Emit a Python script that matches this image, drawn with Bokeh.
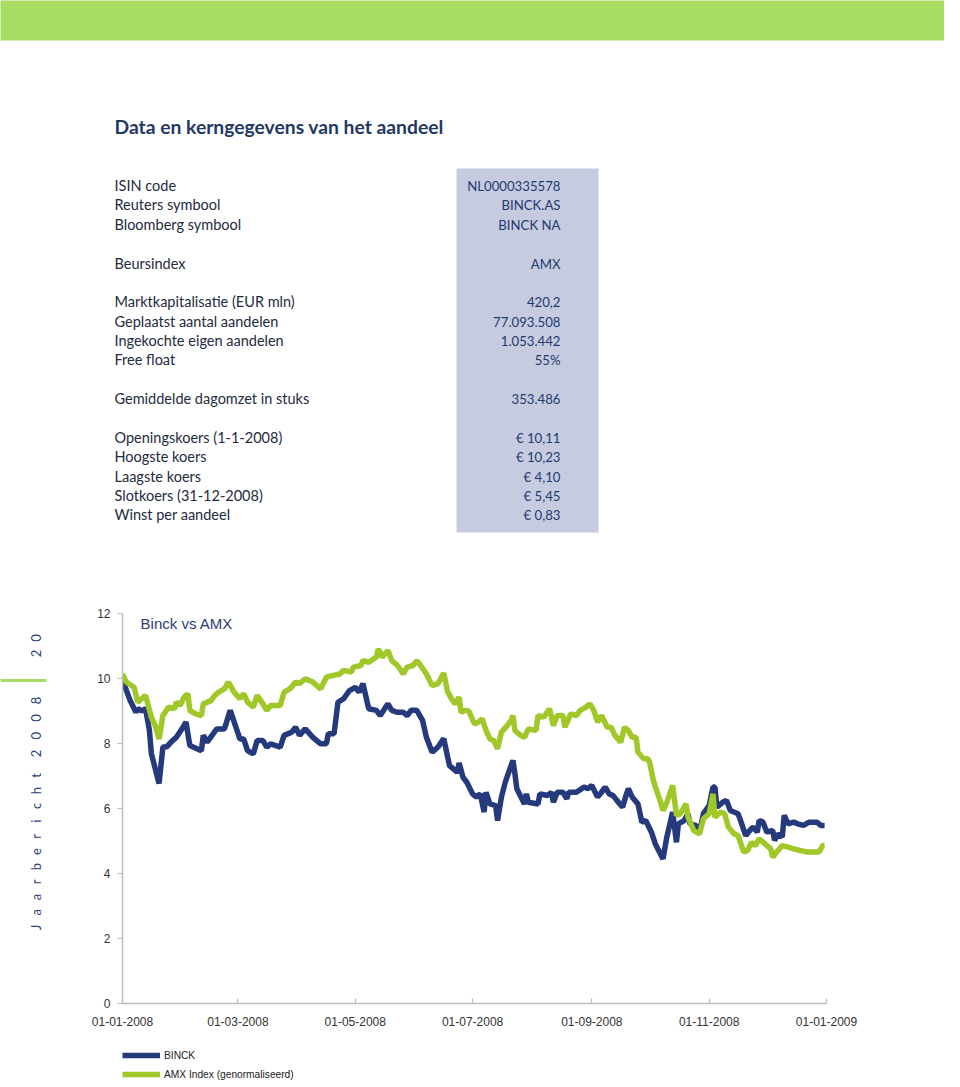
import numpy as np
import pandas as pd
from datetime import datetime
from bokeh.plotting import figure
from bokeh.models import Range1d, FixedTicker, DatetimeTickFormatter, Legend, LegendItem, Label
from bokeh.layouts import column, row
from bokeh.core.properties import value
from bokeh.embed import file_html
from bokeh.resources import INLINE

# ---------------- data ----------------
title_text = "Data en kerngegevens van het aandeel"
row_labels = ["ISIN code", "Reuters symbool", "Bloomberg symbool", "Beursindex",
              "Marktkapitalisatie (EUR mln)", "Geplaatst aantal aandelen",
              "Ingekochte eigen aandelen", "Free float", "Gemiddelde dagomzet in stuks",
              "Openingskoers (1-1-2008)", "Hoogste koers", "Laagste koers",
              "Slotkoers (31-12-2008)", "Winst per aandeel"]
row_values = ["NL0000335578", "BINCK.AS", "BINCK NA", "AMX", "420,2", "77.093.508",
              "1.053.442", "55%", "353.486", "€ 10,11", "€ 10,23", "€ 4,10",
              "€ 5,45", "€ 0,83"]

chart_title = "Binck vs AMX"
series_names = ["BINCK", "AMX Index (genormaliseerd)"]
side_word = "Jaarbericht"
side_year = "2008"
side_page = "20"

# days since 01-01-2008
binck_day = [0, 4, 7, 8, 10, 12, 14, 15, 19, 21,
             23, 26, 28, 31, 33, 35, 41, 42, 44, 49,
             53, 56, 59, 61, 63, 65, 68, 70, 73, 75,
             77, 82, 84, 88, 90, 92, 95, 99, 103, 106,
             107, 110, 112, 115, 118, 121, 123, 125, 128, 132,
             134, 138, 140, 143, 146, 148, 150, 153, 156, 158,
             161, 164, 167, 170, 174, 175, 177, 179, 182, 184,
             186, 188, 189, 191, 194, 195, 197, 199, 202, 203,
             204, 205, 209, 210, 211, 216, 217, 221, 223, 224,
             226, 229, 231, 232, 236, 240, 242, 244, 247, 249,
             251, 253, 255, 257, 260, 262, 263, 265, 268, 270,
             272, 275, 277, 281, 283, 286, 288, 289, 292, 294,
             295, 298, 300, 302, 305, 307, 308, 309, 312, 314,
             316, 320, 321, 324, 327, 328, 330, 331, 333, 335,
             338, 339, 341, 343, 344, 346, 349, 351, 354, 357,
             361, 363, 365]
binck_val = [9.95, 9.32, 8.96, 9.07, 9.0, 9.07, 8.4, 7.69, 6.77, 7.89,
             7.9, 8.09, 8.19, 8.46, 8.66, 7.94, 7.78, 8.25, 8.04, 8.45,
             8.45, 9.02, 8.5, 8.14, 8.14, 7.78, 7.68, 8.09, 8.09, 7.89,
             7.99, 7.89, 8.25, 8.35, 8.5, 8.25, 8.45, 8.19, 7.99, 7.99,
             8.3, 8.3, 9.27, 9.38, 9.63, 9.73, 9.58, 9.84, 9.07, 9.02,
             8.86, 9.22, 9.02, 8.96, 8.96, 8.86, 9.02, 9.02, 8.71, 8.19,
             7.73, 7.89, 8.15, 7.32, 7.12, 7.4, 6.96, 6.81, 6.45, 6.35,
             6.45, 5.89, 6.5, 6.14, 6.09, 5.63, 6.35, 6.81, 7.32, 7.48,
             7.07, 6.61, 6.14, 6.45, 6.19, 6.14, 6.45, 6.40, 6.5, 6.19,
             6.5, 6.5, 6.3, 6.5, 6.5, 6.66, 6.61, 6.71, 6.35, 6.5,
             6.66, 6.45, 6.40, 6.25, 6.04, 6.45, 6.61, 6.35, 6.14, 5.58,
             5.63, 5.27, 4.91, 4.45, 5.12, 5.89, 4.96, 5.53, 5.63, 5.84,
             5.53, 5.48, 5.27, 5.84, 6.09, 6.66, 6.66, 6.04, 6.19, 6.25,
             5.94, 5.84, 5.68, 5.17, 5.38, 5.43, 5.27, 5.63, 5.58, 5.27,
             5.33, 5.02, 5.22, 5.12, 5.79, 5.53, 5.58, 5.53, 5.48, 5.58,
             5.58, 5.48, 5.48]

amx_day = [0, 2, 6, 8, 12, 15, 17, 19, 21, 24,
           27, 28, 30, 32, 34, 35, 38, 41, 42, 46,
           48, 50, 53, 55, 58, 61, 63, 65, 68, 70,
           73, 75, 77, 82, 84, 87, 90, 92, 95, 99,
           103, 106, 109, 113, 115, 119, 120, 124, 125, 128,
           132, 133, 135, 138, 140, 143, 146, 148, 151, 153,
           155, 158, 161, 164, 167, 169, 171, 173, 175, 176,
           178, 180, 183, 185, 187, 189, 191, 193, 195, 197,
           200, 202, 203, 204, 207, 209, 211, 215, 216, 219,
           222, 224, 226, 229, 230, 233, 236, 238, 241, 243,
           245, 247, 249, 252, 254, 256, 259, 261, 263, 265,
           267, 268, 271, 273, 274, 276, 280, 281, 283, 286,
           288, 290, 293, 294, 297, 300, 302, 305, 307, 308,
           311, 313, 315, 318, 320, 323, 325, 327, 329, 331,
           334, 337, 338, 340, 343, 346, 349, 352, 356, 362,
           364, 365]
amx_val = [10.14, 9.89, 9.73, 9.27, 9.48, 8.81, 8.55, 8.14, 8.86, 9.12,
           9.07, 9.27, 9.17, 9.43, 9.53, 9.02, 8.91, 8.86, 9.22, 9.32,
           9.48, 9.58, 9.68, 9.89, 9.58, 9.38, 9.53, 9.27, 9.12, 9.48,
           9.22, 9.02, 9.17, 9.17, 9.58, 9.68, 9.89, 9.84, 9.99, 9.89,
           9.68, 10.04, 10.09, 10.14, 10.25, 10.20, 10.35, 10.4, 10.55, 10.5,
           10.66, 10.91, 10.66, 10.86, 10.55, 10.4, 10.14, 10.35, 10.4, 10.55,
           10.4, 10.14, 9.78, 9.84, 10.17, 9.6, 9.38, 9.22, 9.43, 8.96,
           9.02, 9.0, 8.6, 8.66, 8.76, 8.4, 8.14, 8.09, 7.84, 8.35,
           8.55, 8.71, 8.86, 8.4, 8.25, 8.19, 8.45, 8.4, 8.86, 8.81,
           9.07, 8.55, 8.86, 8.86, 8.5, 8.91, 8.86, 9.02, 9.12, 9.22,
           9.02, 8.66, 8.86, 8.5, 8.5, 8.25, 8.04, 8.5, 8.4, 8.19,
           8.19, 7.73, 7.53, 7.53, 7.43, 6.86, 6.14, 5.94, 6.19, 6.71,
           5.79, 5.84, 6.14, 5.73, 5.32, 5.22, 5.68, 5.84, 6.45, 5.73,
           5.89, 5.84, 5.43, 5.22, 5.17, 4.66, 4.71, 4.96, 4.86, 5.07,
           4.91, 4.76, 4.50, 4.66, 4.86, 4.81, 4.76, 4.71, 4.66, 4.66,
           4.86, 4.86]

x_tick_dates = ["2008-01-01", "2008-03-01", "2008-05-01", "2008-07-01",
                "2008-09-01", "2008-11-01", "2009-01-01"]
y_ticks = [0, 2, 4, 6, 8, 10, 12]

# ---------------- styles / layout ----------------
NAVY = "#253a7c"
GREEN = "#a0c828"
BAND = "#a8dc62"
BOX = "#c6cbe0"
TXT = "#232b3e"
VAL = "#1f3a70"
HEAD = "#1f3864"
AXIS = "#bdbdbd"

TOP_H = 588
W = 944
SIDE_W = 70
CH_W = W - SIDE_W
CH_H = 450          # chart figure: 25 top + 390 frame + 35 bottom
LEG_H = 46
BOT_H = CH_H + LEG_H

row_y = [185, 204, 224, 263, 301, 321, 340, 359, 398, 437, 456, 476, 495, 514]

# ---------------- top figure: header + table ----------------
p1 = figure(width=W, height=TOP_H, x_range=Range1d(0, W), y_range=Range1d(TOP_H, 0),
            x_axis_location=None, y_axis_location=None, min_border=0,
            output_backend="svg", toolbar_location=None)
p1.grid.visible = False
p1.outline_line_color = None

p1.quad(left=-10, right=W + 10, top=-10, bottom=40, fill_color=BAND, line_color=None)
p1.quad(left=456, right=598, top=168, bottom=532, fill_color=BOX, line_color=None)
p1.text(x=[114], y=[126], text=[title_text], text_font=value("Lato"),
        text_font_style="bold", text_font_size="19.3px", text_color=HEAD,
        text_baseline="middle", text_align="left")
p1.text(x=[114] * len(row_labels), y=row_y, text=row_labels,
        text_font=value("Lato"), text_font_size="14.5px", text_color=TXT,
        text_baseline="middle", text_align="left")
p1.text(x=[560] * len(row_values), y=row_y, text=row_values,
        text_font=value("Lato"), text_font_size="13.2px", text_color=VAL,
        text_baseline="middle", text_align="right")

# ---------------- side figure: vertical running title ----------------
BY = TOP_H
p2 = figure(width=SIDE_W, height=BOT_H, x_range=Range1d(0, SIDE_W), y_range=Range1d(BOT_H, 0),
            x_axis_location=None, y_axis_location=None, min_border=0,
            output_backend="svg", toolbar_location=None)
p2.grid.visible = False
p2.outline_line_color = None

chars, cy = [], []
for i, ch in enumerate(side_word):
    chars.append(ch); cy.append(927 - 15.2 * i - BY)
for i, ch in enumerate(side_year):
    chars.append(ch); cy.append(753 - 17.7 * i - BY)
for i, ch in enumerate(side_page):
    chars.append(ch); cy.append(653 - 15.5 * i - BY)
p2.text(x=[35] * len(chars), y=cy, text=chars, angle=np.pi / 2,
        text_font=value("Lato"), text_font_size="13px", text_color="#2c3f7d",
        text_align="center", text_baseline="middle")
p2.segment(x0=[-10], y0=[680 - BY], x1=[46], y1=[680 - BY], line_color=BAND, line_width=3)

# ---------------- chart figure ----------------
base = pd.Timestamp("2008-01-01")
binck_dates = base + pd.to_timedelta(binck_day, unit="D")
amx_dates = base + pd.to_timedelta(amx_day, unit="D")

p3 = figure(width=CH_W, height=CH_H, x_axis_type="datetime",
            x_range=Range1d(start=datetime(2008, 1, 1), end=datetime(2009, 1, 1)),
            y_range=Range1d(0, 12),
            min_border_left=52, min_border_right=CH_W - 52 - 704,
            min_border_top=25, min_border_bottom=CH_H - 25 - 390,
            output_backend="svg", toolbar_location=None)
p3.grid.visible = False
p3.outline_line_color = None

r1 = p3.line(binck_dates, binck_val, line_color=NAVY, line_width=5.5)
r2 = p3.line(amx_dates, amx_val, line_color=GREEN, line_width=5.5)

p3.xaxis.ticker = FixedTicker(ticks=[pd.Timestamp(d).timestamp() * 1000 for d in x_tick_dates])
fmt = "%d-%m-%Y"
p3.xaxis.formatter = DatetimeTickFormatter(microseconds=fmt, milliseconds=fmt, seconds=fmt,
                                           minsec=fmt, minutes=fmt, hourmin=fmt, hours=fmt,
                                           days=fmt, months=fmt, years=fmt)
p3.yaxis.ticker = FixedTicker(ticks=y_ticks)
for ax in (p3.xaxis, p3.yaxis):
    ax.axis_line_color = AXIS
    ax.axis_line_width = 1.5
    ax.major_tick_line_color = AXIS
    ax.major_tick_line_width = 1.2
    ax.minor_tick_line_color = None
    ax.major_label_text_font = "Liberation Sans"
    ax.major_label_text_font_size = "12px"
    ax.major_label_text_color = "#333333"
p3.xaxis.major_tick_in = 5
p3.xaxis.major_tick_out = 0
p3.xaxis.major_label_standoff = 13
p3.yaxis.major_tick_in = 0
p3.yaxis.major_tick_out = 5
p3.yaxis.major_label_standoff = 7

p3.add_layout(Label(x=datetime(2008, 1, 10, 10), y=11.69, text=chart_title,
                    text_font="Liberation Sans", text_font_size="15px",
                    text_color="#2d3c72", text_baseline="middle"))

# ---------------- legend strip under the chart ----------------
p4 = figure(width=CH_W, height=LEG_H, x_range=Range1d(0, 1), y_range=Range1d(0, 1),
            x_axis_location=None, y_axis_location=None, min_border=0,
            output_backend="svg", toolbar_location=None)
p4.grid.visible = False
p4.outline_line_color = None
# key glyphs carry the series styles; their points lie outside the strip's ranges
k1 = p4.line(x=[-3, -2], y=[-3, -3], line_color=NAVY, line_width=5.5)
k2 = p4.line(x=[-3, -2], y=[-3, -3], line_color=GREEN, line_width=5.5)
legend = Legend(items=[LegendItem(label=series_names[0], renderers=[k1]),
                       LegendItem(label=series_names[1], renderers=[k2])],
                location=(0, 1), orientation="vertical",
                glyph_width=38, glyph_height=18, label_height=18, spacing=1,
                padding=0, margin=0, border_line_color=None, background_fill_alpha=0,
                label_text_font="Liberation Sans", label_text_font_size="10.2px",
                label_text_color="#222222", label_standoff=4)
p4.add_layout(legend)

layout = column(p1, row(p2, column(p3, p4)))
open("out.html", "w").write(file_html(layout, INLINE))
